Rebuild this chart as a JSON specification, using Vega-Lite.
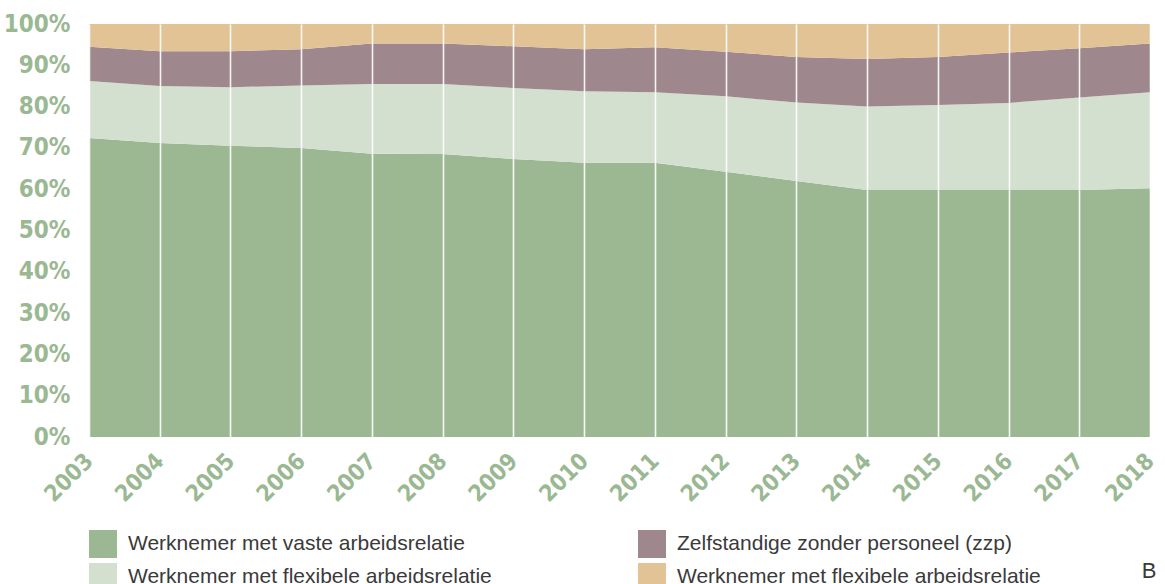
{
  "$schema": "https://vega.github.io/schema/vega-lite/v6.json",
  "width": 1061,
  "height": 413,
  "autosize": {"type": "none"},
  "padding": {"left": 89, "top": 24, "right": 15, "bottom": 147},
  "background": "white",
  "title": {"text": "B", "orient": "bottom", "anchor": "end", "fontSize": 22, "fontWeight": "normal", "font": "Liberation Sans", "color": "#3a3a3a", "offset": -30, "dx": -2},
  "data": {"values": [
    {"year": 2003, "series": "vaste", "value": 72.4}, {"year": 2003, "series": "flex", "value": 13.8}, {"year": 2003, "series": "zzp", "value": 8.3}, {"year": 2003, "series": "flex2", "value": 5.5},
    {"year": 2004, "series": "vaste", "value": 71.2}, {"year": 2004, "series": "flex", "value": 13.8}, {"year": 2004, "series": "zzp", "value": 8.4}, {"year": 2004, "series": "flex2", "value": 6.6},
    {"year": 2005, "series": "vaste", "value": 70.5}, {"year": 2005, "series": "flex", "value": 14.2}, {"year": 2005, "series": "zzp", "value": 8.7}, {"year": 2005, "series": "flex2", "value": 6.6},
    {"year": 2006, "series": "vaste", "value": 70.0}, {"year": 2006, "series": "flex", "value": 15.1}, {"year": 2006, "series": "zzp", "value": 8.8}, {"year": 2006, "series": "flex2", "value": 6.1},
    {"year": 2007, "series": "vaste", "value": 68.6}, {"year": 2007, "series": "flex", "value": 16.9}, {"year": 2007, "series": "zzp", "value": 9.8}, {"year": 2007, "series": "flex2", "value": 4.7},
    {"year": 2008, "series": "vaste", "value": 68.5}, {"year": 2008, "series": "flex", "value": 17.0}, {"year": 2008, "series": "zzp", "value": 9.8}, {"year": 2008, "series": "flex2", "value": 4.7},
    {"year": 2009, "series": "vaste", "value": 67.3}, {"year": 2009, "series": "flex", "value": 17.2}, {"year": 2009, "series": "zzp", "value": 10.1}, {"year": 2009, "series": "flex2", "value": 5.4},
    {"year": 2010, "series": "vaste", "value": 66.4}, {"year": 2010, "series": "flex", "value": 17.3}, {"year": 2010, "series": "zzp", "value": 10.2}, {"year": 2010, "series": "flex2", "value": 6.1},
    {"year": 2011, "series": "vaste", "value": 66.4}, {"year": 2011, "series": "flex", "value": 17.1}, {"year": 2011, "series": "zzp", "value": 10.9}, {"year": 2011, "series": "flex2", "value": 5.6},
    {"year": 2012, "series": "vaste", "value": 64.2}, {"year": 2012, "series": "flex", "value": 18.3}, {"year": 2012, "series": "zzp", "value": 10.8}, {"year": 2012, "series": "flex2", "value": 6.7},
    {"year": 2013, "series": "vaste", "value": 62.0}, {"year": 2013, "series": "flex", "value": 19.0}, {"year": 2013, "series": "zzp", "value": 11.0}, {"year": 2013, "series": "flex2", "value": 8.0},
    {"year": 2014, "series": "vaste", "value": 59.8}, {"year": 2014, "series": "flex", "value": 20.2}, {"year": 2014, "series": "zzp", "value": 11.5}, {"year": 2014, "series": "flex2", "value": 8.5},
    {"year": 2015, "series": "vaste", "value": 59.8}, {"year": 2015, "series": "flex", "value": 20.6}, {"year": 2015, "series": "zzp", "value": 11.6}, {"year": 2015, "series": "flex2", "value": 8.0},
    {"year": 2016, "series": "vaste", "value": 59.8}, {"year": 2016, "series": "flex", "value": 21.1}, {"year": 2016, "series": "zzp", "value": 12.2}, {"year": 2016, "series": "flex2", "value": 6.9},
    {"year": 2017, "series": "vaste", "value": 59.8}, {"year": 2017, "series": "flex", "value": 22.4}, {"year": 2017, "series": "zzp", "value": 11.9}, {"year": 2017, "series": "flex2", "value": 5.9},
    {"year": 2018, "series": "vaste", "value": 60.2}, {"year": 2018, "series": "flex", "value": 23.3}, {"year": 2018, "series": "zzp", "value": 11.8}, {"year": 2018, "series": "flex2", "value": 4.7}
  ]},
  "transform": [
    {"calculate": "indexof(['vaste','flex','zzp','flex2'], datum.series)", "as": "stackOrder"}
  ],
  "mark": {"type": "area", "interpolate": "linear", "strokeWidth": 0},
  "encoding": {
    "x": {
      "field": "year", "type": "quantitative",
      "scale": {"domain": [2003, 2018], "nice": false, "zero": false},
      "axis": {
        "values": [2003, 2004, 2005, 2006, 2007, 2008, 2009, 2010, 2011, 2012, 2013, 2014, 2015, 2016, 2017, 2018],
        "format": "d", "title": null, "domain": false, "ticks": false,
        "grid": true, "gridColor": "#ffffff", "gridWidth": 1.6, "gridOpacity": 0.9, "zindex": 1,
        "labelAngle": -45, "labelAlign": "right", "labelBaseline": "middle",
        "labelFont": "DejaVu Sans Condensed, DejaVu Sans", "labelFontWeight": "bold", "labelFontSize": 23,
        "labelColor": "#9ab892", "labelPadding": 20, "labelOverlap": false, "labelFlush": false
      }
    },
    "y": {
      "field": "value", "type": "quantitative", "stack": "normalize",
      "scale": {"domain": [0, 1], "nice": false},
      "axis": {
        "values": [0, 0.1, 0.2, 0.3, 0.4, 0.5, 0.6, 0.7, 0.8, 0.9, 1],
        "format": ".0%", "title": null, "domain": false, "ticks": false, "grid": false,
        "labelFont": "DejaVu Sans Condensed, DejaVu Sans", "labelFontWeight": "bold", "labelFontSize": 24,
        "labelColor": "#9ab892", "labelPadding": 19, "labelBaseline": "middle", "labelOverlap": false, "labelFlush": false
      }
    },
    "color": {
      "field": "series", "type": "nominal",
      "scale": {
        "domain": ["vaste", "zzp", "flex", "flex2"],
        "range": ["#9bb893", "#9e888e", "#d3dfcf", "#e1c396"]
      },
      "legend": {
        "title": null, "orient": "none", "legendX": 0, "legendY": 506,
        "columns": 2, "direction": "horizontal",
        "symbolType": "square", "symbolSize": 784, "symbolStrokeWidth": 0, "symbolOpacity": 1,
        "labelFont": "Liberation Sans", "labelFontSize": 21, "labelColor": "#3a3a3a",
        "labelOffset": 11, "labelLimit": 0, "rowPadding": 5, "columnPadding": 146, "padding": 0,
        "labelExpr": "datum.value == 'vaste' ? 'Werknemer met vaste arbeidsrelatie' : datum.value == 'zzp' ? 'Zelfstandige zonder personeel (zzp)' : 'Werknemer met flexibele arbeidsrelatie'"
      }
    },
    "order": {"field": "stackOrder", "type": "quantitative", "sort": "ascending"},
    "opacity": {"value": 1}
  },
  "config": {"view": {"stroke": null}}
}
